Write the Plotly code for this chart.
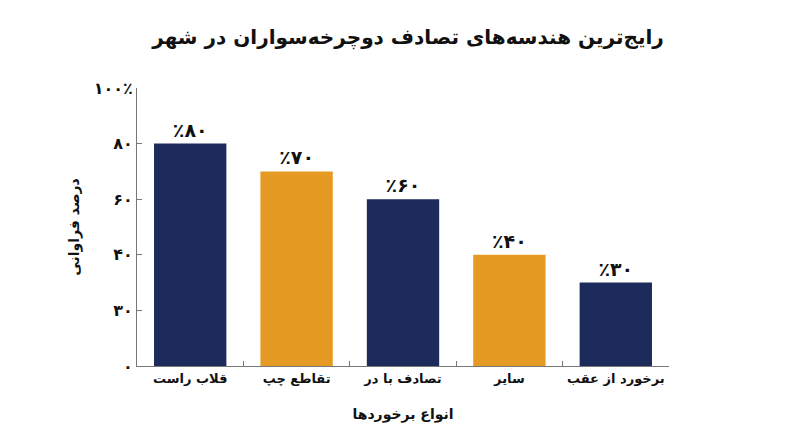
import plotly.graph_objects as go

categories = ["قلاب راست", "تقاطع چپ", "تصادف با در", "سایر", "برخورد از عقب"]
values = [80, 70, 60, 40, 30]
value_labels = ["٪۸۰", "٪۷۰", "٪۶۰", "٪۴۰", "٪۳۰"]
tick_vals = [0, 20, 40, 60, 80, 100]
tick_text = ["۰", "۳۰", "۴۰", "۶۰", "۸۰", "۱۰۰٪"]
navy = "#1d2b5c"
orange = "#e59b23"
bar_colors = [navy, orange, navy, orange, navy]

FONT = "DejaVu Sans"

fig = go.Figure(go.Bar(
    x=categories, y=values,
    marker=dict(color=bar_colors, line=dict(width=0)),
    text=value_labels, textposition="outside",
    textfont=dict(family=FONT, size=19, color="#111111", weight="bold"),
    cliponaxis=False,
    width=0.68,
))

fig.update_layout(
    width=800, height=447,
    margin=dict(l=129, r=139, t=80, b=89),
    paper_bgcolor="white", plot_bgcolor="white",
    showlegend=False,
    font=dict(family=FONT, color="#111111"),
    title=dict(text="رایج‌ترین هندسه‌های تصادف دوچرخه‌سواران در شهر",
               x=0.5, xanchor="center", y=0.935, yanchor="middle",
               font=dict(family=FONT, size=20, color="#111111", weight="bold")),
    xaxis=dict(
        showline=True, linecolor="#777777", linewidth=1,
        ticks="inside", ticklen=5, tickcolor="#777777",
        tickson="boundaries", tickangle=0, automargin=False,
        tickfont=dict(family=FONT, size=13, color="#111111", weight="bold"),
        title=dict(text="انواع برخوردها", standoff=24,
                   font=dict(family=FONT, size=14, color="#111111", weight="bold")),
        showgrid=False,
    ),
    yaxis=dict(
        range=[0, 100], automargin=False,
        tickvals=tick_vals, ticktext=tick_text,
        showline=True, linecolor="#777777", linewidth=1,
        ticks="inside", ticklen=5, tickcolor="#777777",
        tickfont=dict(family=FONT, size=16, color="#111111", weight="bold"),
        showgrid=False, zeroline=False,
        title=dict(text="درصد فراوانی", standoff=10,
                   font=dict(family=FONT, size=14, color="#111111", weight="bold")),
    ),
)

fig.write_html("out.html")
